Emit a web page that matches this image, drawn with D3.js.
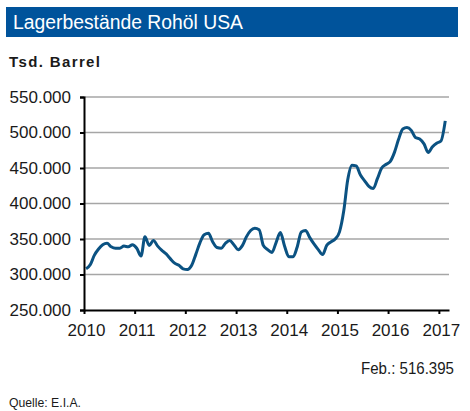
<!DOCTYPE html>
<html>
<head>
	<meta charset="utf-8">
	<title>Lagerbestände Rohöl USA</title>
	<script src="https://cdn.jsdelivr.net/npm/d3@7/dist/d3.min.js"></script>
	<style>
		body { margin: 0; background: #fff; }
		svg text { font-family: "Liberation Sans", Arial, sans-serif; fill: #1a1a1a; }
		.grid line { stroke: #a6a6a6; stroke-width: 1.6px; }
		.axis path, .axis line { stroke: #000; stroke-width: 2px; }
	</style>
</head>
<body>
	<svg id="chart" width="470" height="411"></svg>

	<script>
		// monthly stocks, Tsd. Barrel, Jan 2010 .. Feb 2017
		var startMonth = '2010-01';
		var stocks = [
			308, 314, 327, 336, 342, 344, 339, 337, 337, 340, 339, 342,   // 2010
			337, 326, 353, 341, 348, 340, 334, 329, 322, 316, 313, 308,   // 2011
			307, 313, 328, 345, 356, 358, 346, 338, 337, 344, 348, 342,   // 2012
			335, 341, 353, 362, 365, 363, 341, 335, 331, 345, 359, 340,   // 2013
			325, 325, 338, 360, 362, 352, 343, 335, 328, 341, 346, 350,   // 2014
			360, 390, 433, 454, 453, 440, 432, 424, 421, 435, 450, 455,   // 2015
			459, 472, 490, 505, 507, 503, 493, 491, 484, 472, 480, 485,   // 2016
			488, 516.395                                                  // 2017
		];
		var yTicks = [250, 300, 350, 400, 450, 500, 550];
		var years = [2010, 2011, 2012, 2013, 2014, 2015, 2016, 2017];
		var title = 'Lagerbestände Rohöl USA';
		var unit = 'Tsd. Barrel';
		var lastLabel = 'Feb.: 516.395';
		var source = 'Quelle: E.I.A.';

		var svg = d3.select('#chart');
		var fmt = d3.formatLocale({ decimal: ',', thousands: '.', grouping: [3] }).format(',.0f');

		var t0 = d3.timeParse('%Y-%m')(startMonth);
		var data = stocks.map((v, i) => ({
			date: d3.timeDay.offset(d3.timeMonth.offset(t0, i), 15),
			value: v
		}));

		var x = d3.scaleTime()
			.domain([new Date(2010, 0, 1), new Date(2017, 2, 15)])
			.range([84, 449]);
		var y = d3.scaleLinear()
			.domain([250, 550])
			.range([310, 97]);

		// title bar
		svg.append('rect')
			.attr('x', 6).attr('y', 7)
			.attr('width', 452).attr('height', 30)
			.attr('fill', '#00539b');
		svg.append('text')
			.attr('x', 13).attr('y', 29)
			.attr('textLength', 230)
			.attr('lengthAdjust', 'spacingAndGlyphs')
			.style('font-size', '19.5px')
			.style('fill', '#fff')
			.text(title);

		svg.append('text')
			.attr('x', 9).attr('y', 67)
			.attr('textLength', 91)
			.attr('lengthAdjust', 'spacing')
			.style('font-size', '15px')
			.style('font-weight', 'bold')
			.text(unit);

		// gridlines
		svg.append('g')
			.attr('class', 'grid')
			.selectAll('line')
			.data(yTicks.filter(d => d > 250))
			.join('line')
			.attr('x1', 84).attr('x2', 449)
			.attr('y1', d => y(d)).attr('y2', d => y(d));

		// line
		var line = d3.line()
			.x(d => x(d.date))
			.y(d => y(d.value))
			.curve(d3.curveMonotoneX);

		svg.append('path')
			.datum(data)
			.attr('fill', 'none')
			.attr('stroke', '#0b5282')
			.attr('stroke-width', 3)
			.attr('stroke-linejoin', 'round')
			.attr('d', line);

		// y axis
		var yAxis = svg.append('g')
			.attr('class', 'axis')
			.attr('transform', 'translate(84,0)')
			.call(d3.axisLeft(y).tickValues(yTicks).tickSize(4).tickSizeOuter(4).tickPadding(9)
				.tickFormat(d => fmt(d * 1000)));
		yAxis.selectAll('text')
			.style('font-size', '17px')
			.style('font-family', '"Liberation Sans", Arial, sans-serif')
			.attr('fill', '#1a1a1a');

		// x axis
		var xAxis = svg.append('g')
			.attr('class', 'axis')
			.attr('transform', 'translate(0,310)')
			.call(d3.axisBottom(x).tickValues(years.map(d => new Date(d, 0, 1))).tickSize(4).tickSizeOuter(0).tickPadding(10)
				.tickFormat(d3.timeFormat('%Y')));
		xAxis.selectAll('text')
			.style('font-size', '17px')
			.style('font-family', '"Liberation Sans", Arial, sans-serif')
			.attr('fill', '#1a1a1a')
			.attr('dx', '2px');

		svg.append('text')
			.attr('x', 454).attr('y', 374)
			.attr('text-anchor', 'end')
			.attr('textLength', 93)
			.attr('lengthAdjust', 'spacingAndGlyphs')
			.style('font-size', '17px')
			.text(lastLabel);

		svg.append('text')
			.attr('x', 9).attr('y', 407)
			.attr('textLength', 72)
			.attr('lengthAdjust', 'spacingAndGlyphs')
			.style('font-size', '12px')
			.text(source);
	</script>
</body>
</html>
